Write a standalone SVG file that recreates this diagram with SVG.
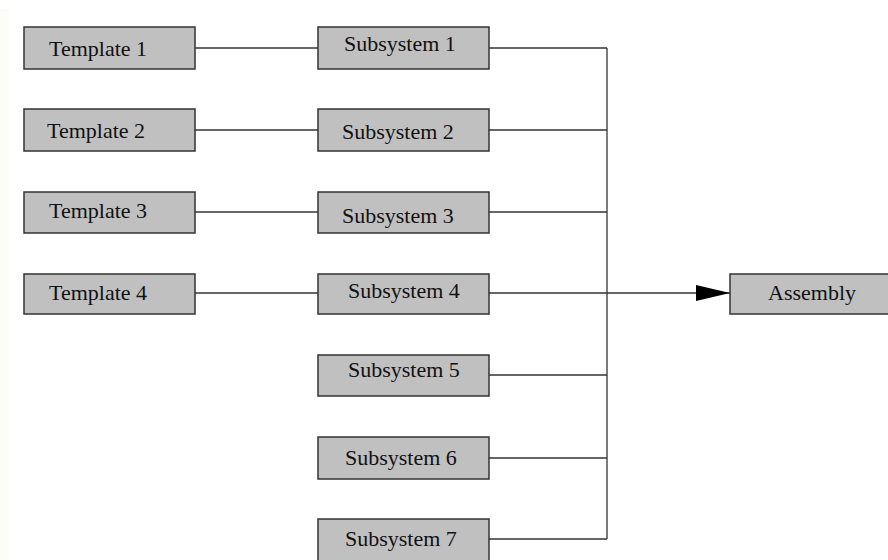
<svg xmlns="http://www.w3.org/2000/svg" width="888" height="560" viewBox="0 0 888 560">
  <defs>
    <marker id="arrow" viewBox="0 0 34 16" refX="34" refY="8" markerWidth="34" markerHeight="16" markerUnits="userSpaceOnUse" orient="auto">
      <path d="M0,0 L34,8 L0,16 Z" fill="#000"/>
    </marker>
  </defs>
  <style>
    .box { fill: #c0c0c0; stroke: #333; stroke-width: 1.5; }
    .lbl { font-family: "Liberation Serif", "Times New Roman", serif; font-size: 22px; fill: #111; }
    .wire { fill: none; stroke: #333; stroke-width: 1.3; }
  </style>
  <rect x="0" y="0" width="888" height="560" fill="#ffffff"/>
  <rect x="0" y="9" width="9" height="551" fill="#fcfcf8"/>

  <g id="connectors">
    <line class="wire" x1="195" y1="48" x2="318" y2="48"/>
    <line class="wire" x1="195" y1="130" x2="318" y2="130"/>
    <line class="wire" x1="195" y1="212" x2="318" y2="212"/>
    <line class="wire" x1="195" y1="293" x2="318" y2="293"/>
    <line class="wire" x1="489" y1="48" x2="607" y2="48"/>
    <line class="wire" x1="489" y1="130" x2="607" y2="130"/>
    <line class="wire" x1="489" y1="212" x2="607" y2="212"/>
    <line class="wire" x1="489" y1="375" x2="607" y2="375"/>
    <line class="wire" x1="489" y1="458" x2="607" y2="458"/>
    <line class="wire" x1="489" y1="539" x2="607" y2="539"/>
    <line class="wire" x1="607" y1="48" x2="607" y2="539"/>
    <line class="wire" x1="489" y1="293" x2="730" y2="293" marker-end="url(#arrow)"/>
  </g>

  <g id="template1"><rect class="box" x="24" y="27" width="171" height="42"/><text class="lbl" x="49" y="56">Template 1</text></g>
  <g id="template2"><rect class="box" x="24" y="109" width="171" height="42"/><text class="lbl" x="47" y="138">Template 2</text></g>
  <g id="template3"><rect class="box" x="24" y="192" width="171" height="41"/><text class="lbl" x="49" y="218">Template 3</text></g>
  <g id="template4"><rect class="box" x="24" y="274" width="171" height="40"/><text class="lbl" x="49" y="300">Template 4</text></g>

  <g id="subsystem1"><rect class="box" x="318" y="27" width="171" height="42"/><text class="lbl" x="344" y="51">Subsystem 1</text></g>
  <g id="subsystem2"><rect class="box" x="318" y="109" width="171" height="42"/><text class="lbl" x="342" y="139">Subsystem 2</text></g>
  <g id="subsystem3"><rect class="box" x="318" y="192" width="171" height="41"/><text class="lbl" x="342" y="223">Subsystem 3</text></g>
  <g id="subsystem4"><rect class="box" x="318" y="274" width="171" height="40"/><text class="lbl" x="348" y="298">Subsystem 4</text></g>
  <g id="subsystem5"><rect class="box" x="318" y="355" width="171" height="41"/><text class="lbl" x="348" y="377">Subsystem 5</text></g>
  <g id="subsystem6"><rect class="box" x="318" y="437" width="171" height="42"/><text class="lbl" x="345" y="465">Subsystem 6</text></g>
  <g id="subsystem7"><rect class="box" x="318" y="519" width="171" height="42"/><text class="lbl" x="345" y="546">Subsystem 7</text></g>

  <g id="assembly"><rect class="box" x="730" y="274" width="160" height="40"/><text class="lbl" x="768" y="300">Assembly</text></g>
</svg>
